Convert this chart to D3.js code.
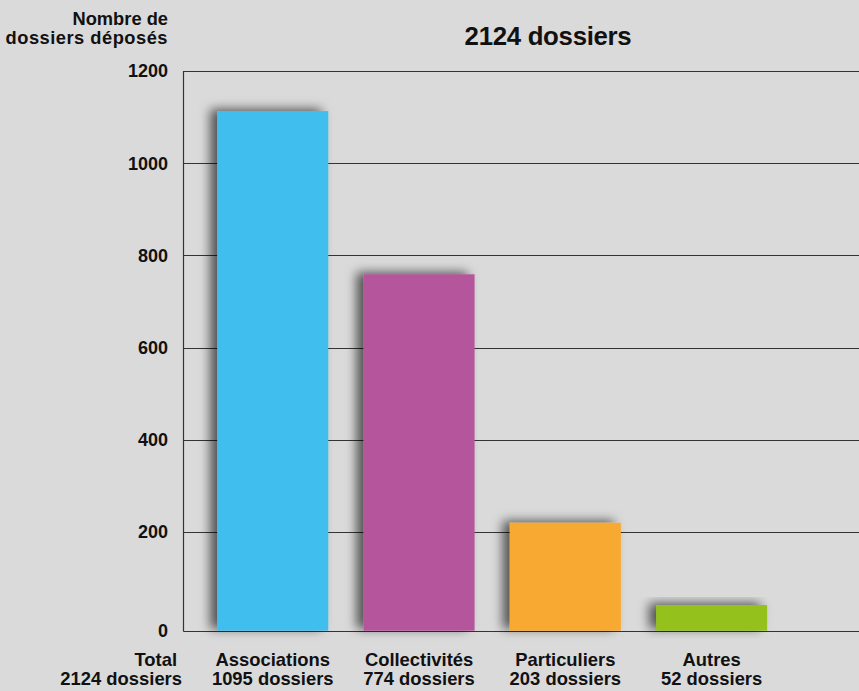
<!DOCTYPE html>
<html><head><meta charset="utf-8">
<script src="https://cdn.jsdelivr.net/npm/d3@7"></script>
<style>
html,body{margin:0;padding:0;background:#dadadb;}
svg{display:block;}
text{font-family:"Liberation Sans",Arial,Helvetica,sans-serif;font-weight:bold;fill:#111;}
</style></head><body>
<script>
const categories = ["Associations","Collectivités","Particuliers","Autres"];
const barValues = [1113, 759, 220, 52];
const countLabels = ["1095 dossiers","774 dossiers","203 dossiers","52 dossiers"];
const colors = ["#41bfef","#b5579d","#f8a930","#94c11f"];
const yTicks = [0,200,400,600,800,1000,1200];
const title = "2124 dossiers";
const yTitle = ["Nombre de","dossiers déposés"];
const totalLabel = ["Total","2124 dossiers"];

const W = 859, H = 691;
const svg = d3.select("body").append("svg").attr("width",W).attr("height",H);
svg.append("rect").attr("width",W).attr("height",H).attr("fill","#dadadb");

const defs = svg.append("defs");
const f = defs.append("filter").attr("id","sh").attr("x","-30%").attr("y","-30%").attr("width","160%").attr("height","160%");
f.append("feDropShadow").attr("dx",-7).attr("dy",-2).attr("stdDeviation",5.5)
 .attr("flood-color","#000").attr("flood-opacity",0.62);

const x0 = 183.5, x1 = W;
// the source chart's 0 line sits slightly lower than a linear 200-step would place it
const y = d3.scaleLinear().domain([0,200,1200]).range([630.7,532,71]);
const x = d3.scaleBand().domain(categories).range([183,801.4]).paddingInner(0.241).paddingOuter(0.234);

// gridlines
svg.append("g").selectAll("line").data(yTicks).join("line")
  .attr("x1",x0).attr("x2",x1)
  .attr("y1",d=>Math.round(y(d))+0.5).attr("y2",d=>Math.round(y(d))+0.5)
  .attr("stroke","#333").attr("stroke-width",1.2);
// axis line
svg.append("line").attr("x1",x0).attr("x2",x0).attr("y1",y(1200)).attr("y2",Math.round(y(0))+0.5)
  .attr("stroke","#333").attr("stroke-width",1.2);

// tick labels
svg.append("g").selectAll("text").data(yTicks).join("text")
  .attr("x",168).attr("y",d=>y(d)).attr("dy","0.36em")
  .attr("text-anchor","end").attr("font-size",18).text(d=>d);

// bars
svg.append("g").selectAll("rect").data(categories).join("rect")
  .attr("x",d=>x(d)).attr("width",x.bandwidth())
  .attr("y",(d,i)=>y(barValues[i])).attr("height",(d,i)=>y(0)-y(barValues[i]))
  .attr("fill",(d,i)=>colors[i]).attr("filter","url(#sh)");

// category labels
const cl = svg.append("g").selectAll("text").data(categories).join("text")
  .attr("x",d=>x(d)+x.bandwidth()/2).attr("y",666)
  .attr("text-anchor","middle").attr("font-size",18.4);
cl.append("tspan").text(d=>d);
cl.append("tspan").attr("x",d=>x(d)+x.bandwidth()/2).attr("dy",19).text((d,i)=>countLabels[i]);

// total label
const tl = svg.append("text").attr("x",181).attr("y",666).attr("text-anchor","end").attr("font-size",18.4);
tl.append("tspan").attr("x",177).text(totalLabel[0]);
tl.append("tspan").attr("x",182).attr("dy",19).text(totalLabel[1]);

// y title
const yt = svg.append("text").attr("x",168).attr("y",25).attr("text-anchor","end").attr("font-size",18.3);
yt.append("tspan").text(yTitle[0]);
yt.append("tspan").attr("x",168).attr("dy",19).attr("letter-spacing",0.5).text(yTitle[1]);

// title
svg.append("text").attr("x",548).attr("y",45).attr("text-anchor","middle")
  .attr("font-size",25.8).attr("letter-spacing",-0.3).text(title);
</script>
</body></html>
